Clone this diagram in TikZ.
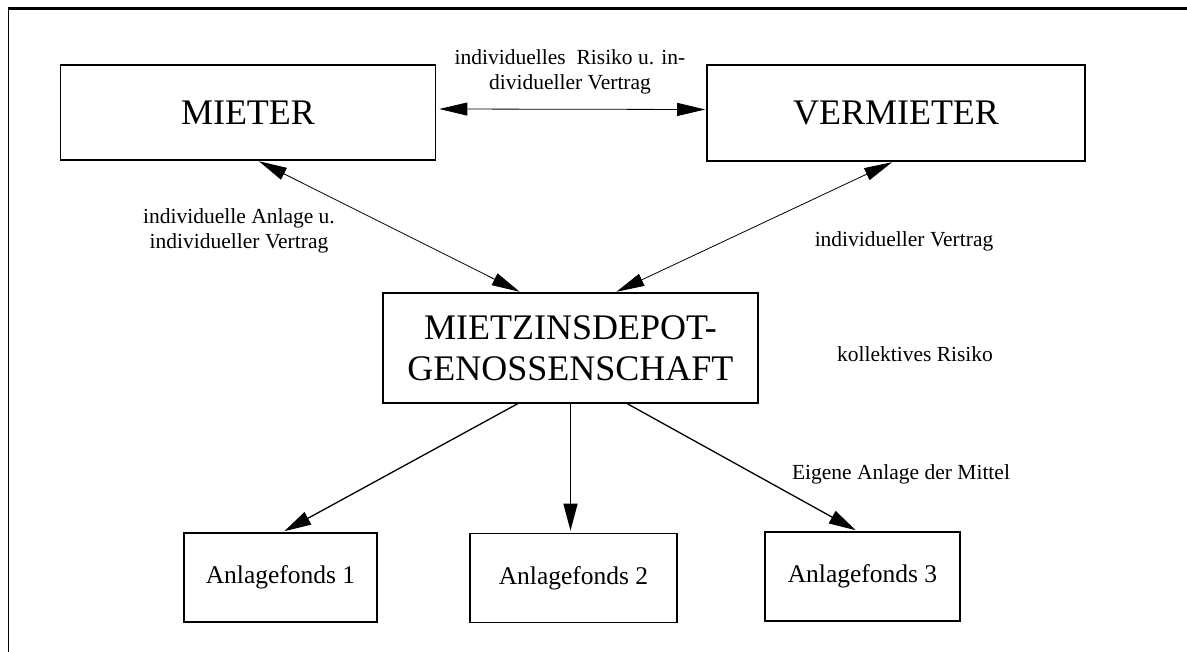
\documentclass[tikz,border=0pt]{standalone}
\usepackage{fontspec}
\setmainfont{Liberation Serif}
\usetikzlibrary{arrows.meta}
\tikzset{
  bigbox/.style={draw, line width=1.6pt, align=center, inner sep=0pt, font=\fontsize{36}{41}\selectfont},
  fondbox/.style={draw, line width=1.6pt, align=center, inner sep=0pt, minimum height=89pt, font=\fontsize{25.5}{30}\selectfont},
  lbl/.style={align=center, inner sep=0pt, font=\fontsize{21.5}{24.5}\selectfont},
  dconn/.style={line width=0.8pt, {Triangle[length=28pt,width=13pt]}-{Triangle[length=28pt,width=13pt]}},
  fconn/.style={line width=1.3pt, -{Triangle[length=27pt,width=14pt]}},
}
\begin{document}
\begin{tikzpicture}[x=1pt,y=-1pt]
\useasboundingbox (0,0) rectangle (1187,652);
% frame
\draw[line width=2.2pt] (1187,8.5) -- (8,8.5);
\draw[line width=1pt] (8,7.5) -- (8,652);
% boxes
\node[bigbox, minimum width=375pt, minimum height=95pt] (mieter) at (248,112.5) {MIETER};
\node[bigbox, minimum width=378pt, minimum height=96pt] (vermieter) at (896,113) {VERMIETER};
\node[bigbox, minimum width=375pt, minimum height=110pt] (dep) at (570.5,348) {MIETZINSDEPOT-\\GENOSSENSCHAFT};
\node[fondbox, minimum width=193pt] (f1) at (280.5,577.5) {Anlagefonds 1};
\node[fondbox, minimum width=207pt] (f2) at (573.5,578) {Anlagefonds 2};
\node[fondbox, minimum width=195pt] (f3) at (862.5,576.5) {Anlagefonds 3};
% labels
\node[lbl] (l1) at (570,72) {individuelles\ \ Risiko u. in-\\dividueller Vertrag};
\node[lbl] (l2) at (239,231) {individuelle Anlage u.\\individueller Vertrag};
\node[lbl] (l3) at (904,241) {individueller Vertrag};
\node[lbl] (l4) at (915,354) {kollektives Risiko};
\node[lbl] (l5) at (901,474) {Eigene Anlage der Mittel};
% connectors
\draw[dconn, shorten <=3pt, shorten >=1pt] ([yshift=3.5pt]mieter.east) -- ([yshift=3.5pt]vermieter.west);
\draw[dconn, shorten <=1pt, shorten >=1pt] ([xshift=10pt]mieter.south) -- ([xshift=-50pt]dep.north);
\draw[dconn, shorten <=1pt, shorten >=1pt] ([xshift=-3pt]vermieter.south) -- ([xshift=45pt]dep.north);
\draw[fconn, shorten >=2pt] ([xshift=-53pt]dep.south) -- ([xshift=2pt]f1.north);
\draw[fconn, shorten >=2pt] (dep.south) -- (dep.south |- f2.north);
\draw[fconn, shorten >=2pt] ([xshift=57pt]dep.south) -- ([xshift=-5pt]f3.north);
\end{tikzpicture}
\end{document}
